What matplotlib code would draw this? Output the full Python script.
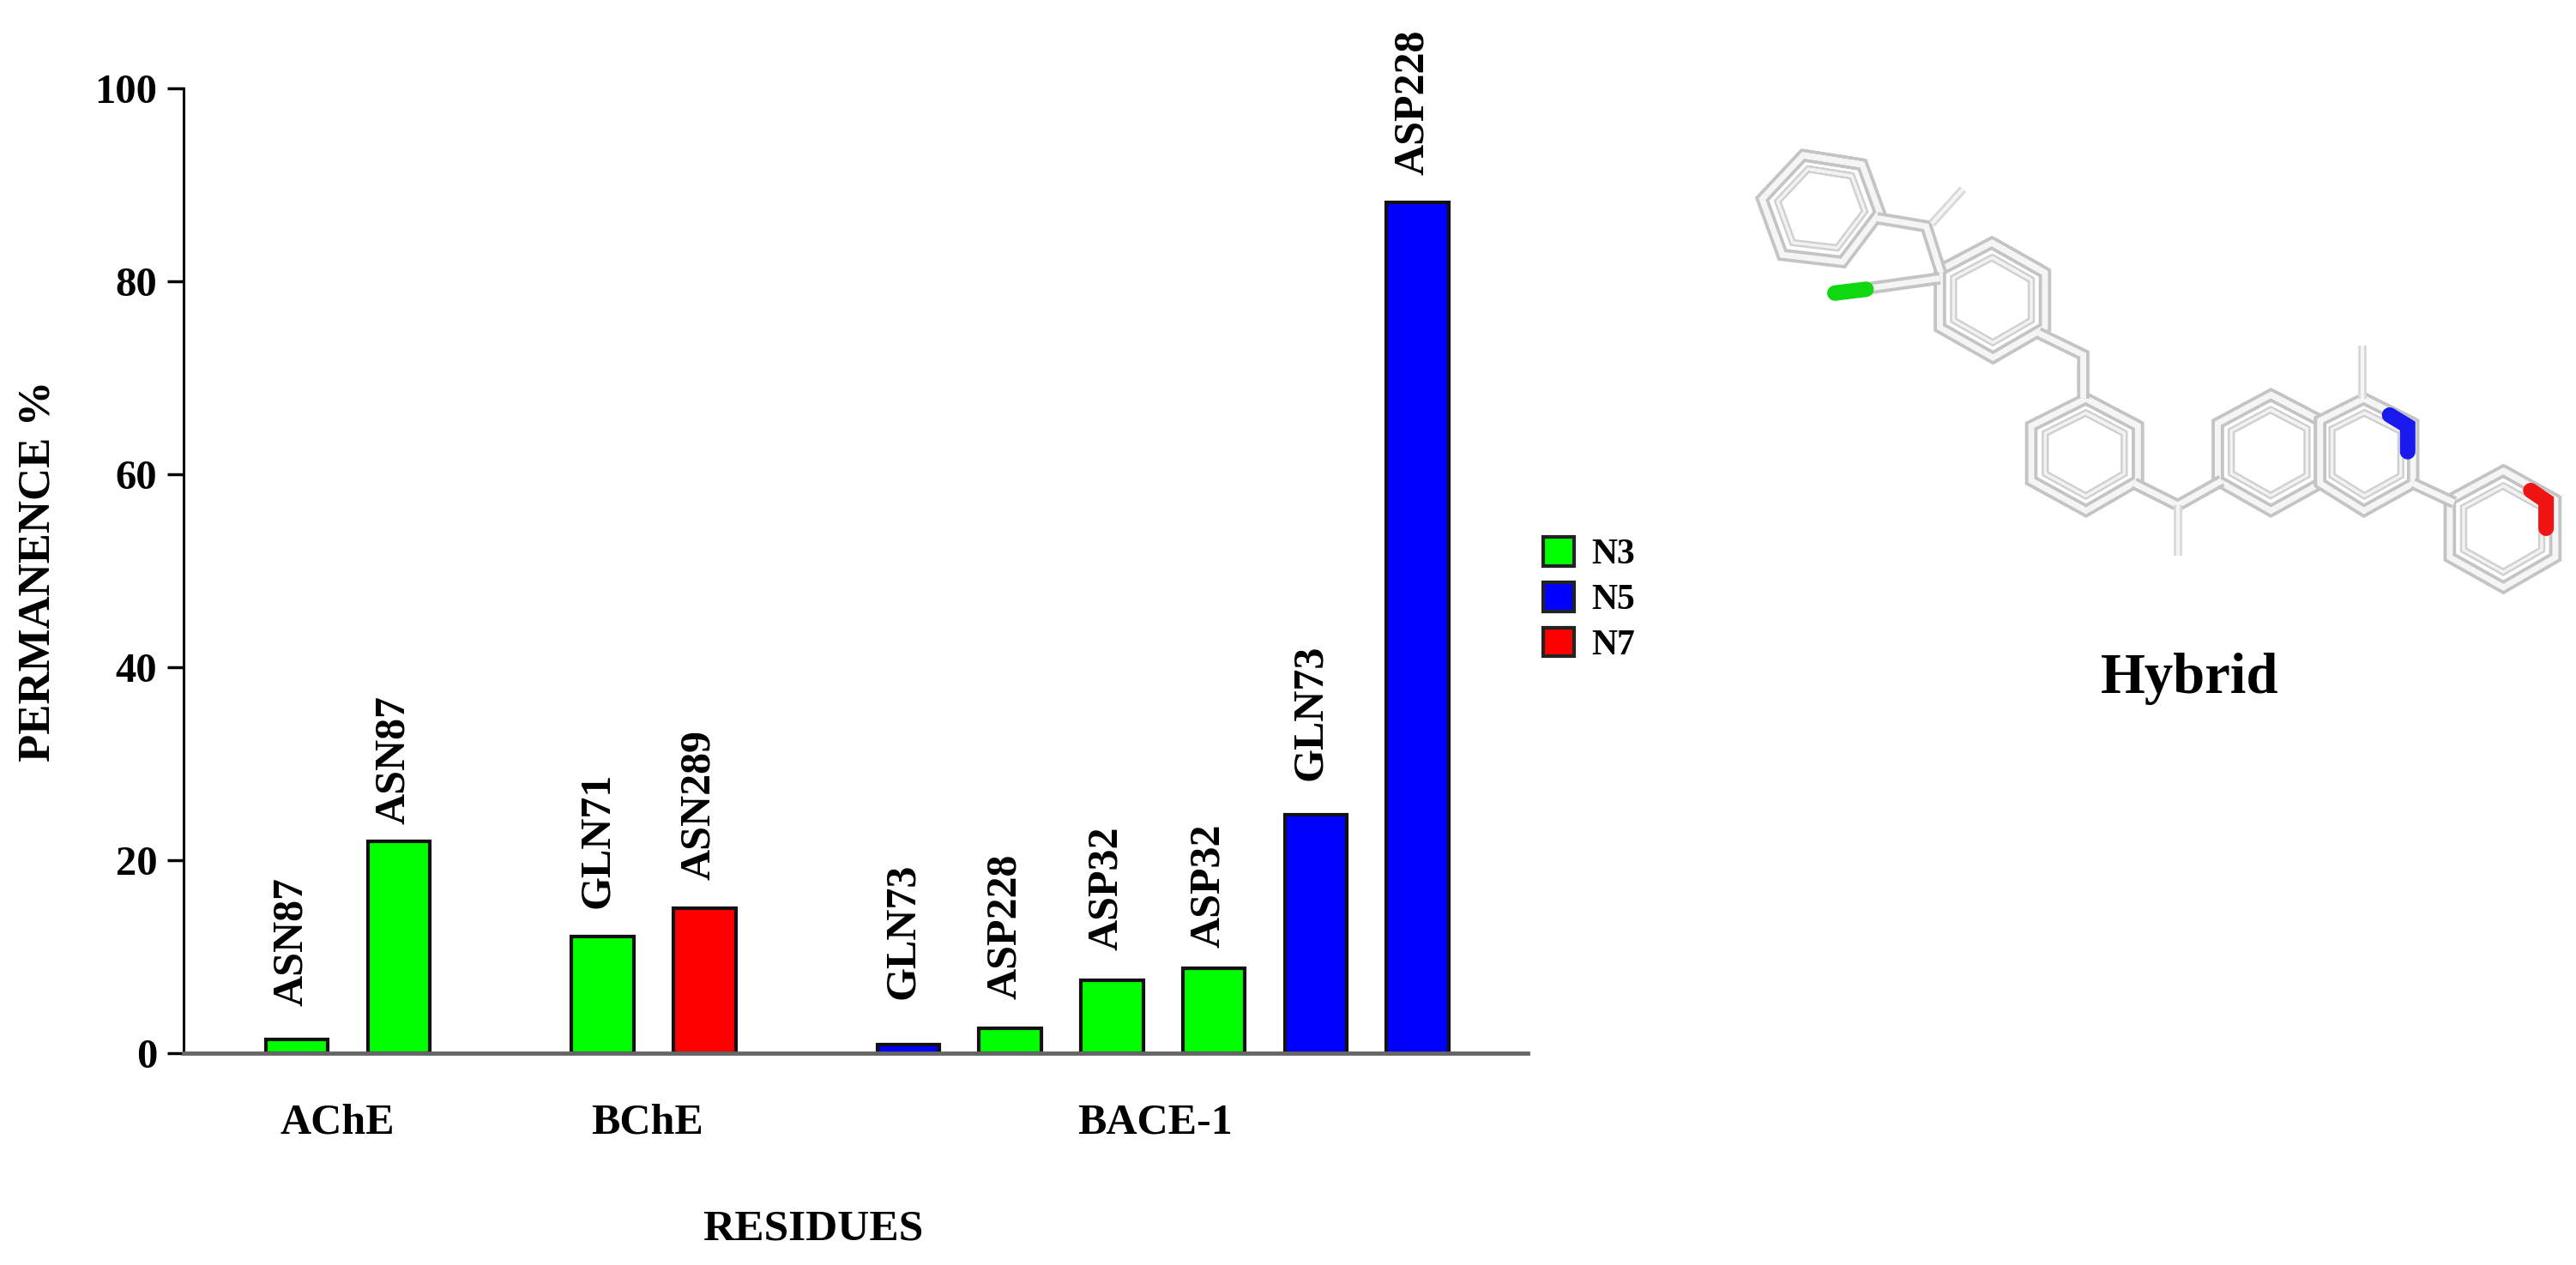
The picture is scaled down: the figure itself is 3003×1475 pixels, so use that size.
import matplotlib
matplotlib.use('Agg')
import matplotlib.pyplot as plt
from matplotlib.patches import Patch
import numpy as np

plt.rcParams['font.family'] = 'Liberation Serif'
plt.rcParams['font.weight'] = 'bold'

# bars, left to right
slots = [0, 1, 3, 4, 6, 7, 8, 9, 10, 11]
values = [1.4, 22.0, 12.1, 15.0, 0.9, 2.6, 7.6, 8.8, 24.7, 88.2]
residues = ['ASN87', 'ASN87', 'GLN71', 'ASN289', 'GLN73', 'ASP228', 'ASP32', 'ASP32', 'GLN73', 'ASP228']
nitrogen = ['N3', 'N3', 'N3', 'N7', 'N5', 'N3', 'N3', 'N3', 'N5', 'N5']
label_y = [4.9, 23.7, 15.0, 18.0, 5.6, 5.6, 10.7, 10.9, 28.3, 91.0]
colors = {'N3': '#00ff00', 'N5': '#0000ff', 'N7': '#ff0000'}

groups = ['AChE', 'BChE', 'BACE-1']
group_x = [0.40, 3.44, 8.42]
y_ticks = [0, 20, 40, 60, 80, 100]

# molecule sketch, in crop pixels of the structure panel
rings = [
    [(160, 80), (268, 97), (300, 185), (232, 275), (122, 262), (85, 160)],
    [(505, 240), (602, 295), (602, 395), (507, 450), (410, 395), (410, 290)],
    [(677, 525), (772, 575), (772, 675), (677, 730), (577, 675), (577, 575)],
    [(1015, 518), (1105, 565), (1105, 680), (1015, 730), (918, 675), (918, 570)],
    [(1185, 525), (1275, 570), (1275, 680), (1185, 730), (1105, 680), (1105, 565)],
    [(1440, 657), (1535, 710), (1535, 815), (1440, 870), (1342, 815), (1342, 710)],
]
bonds = [
    [(295, 195), (385, 210), (412, 295)],
    [(410, 305), (245, 328)],
    [(590, 405), (672, 445), (672, 525)],
    [(765, 680), (845, 720), (925, 675)],
    [(1275, 680), (1350, 715)],
]
thin_bonds = [
    [(395, 205), (452, 142)],
    [(845, 720), (845, 812)],
    [(1183, 525), (1183, 428)],
]
atoms = [
    ([(218, 332), (275, 325)], '#10d810'),
    ([(1232, 555), (1265, 575), (1265, 622)], '#1a1aee'),
    ([(1490, 693), (1518, 712), (1518, 762)], '#f01414'),
]

fig = plt.figure(figsize=(30.03, 14.75), dpi=100, facecolor='white')
W, H = 3003.0, 1475.0
ax = fig.add_axes([214 / W, 1 - 1228 / H, (1781 - 214) / W, (1228 - 103) / H])

bar_colors = [colors[n] for n in nitrogen]
ax.bar(slots, values, width=0.61, color=bar_colors, edgecolor='#111111', linewidth=3)

for s, name, y in zip(slots, residues, label_y):
    ax.text(s - 0.05, y, name, rotation=90, ha='center', va='bottom', fontsize=36)

ax.set_xlim(-1.113, 12.08)
ax.set_ylim(0, 100)
ax.set_yticks(y_ticks)
ax.tick_params(axis='y', labelsize=35, length=14, width=2.5, pad=8)
ax.set_xticks(group_x)
ax.set_xticklabels(groups)
ax.tick_params(axis='x', labelsize=36, length=0, pad=42)
ax.set_xlabel('RESIDUES', fontsize=37, fontweight='bold', x=0.468, labelpad=56)
ax.set_ylabel('PERMANENCE %', fontsize=38, fontweight='bold', labelpad=30)

ax.spines['top'].set_visible(False)
ax.spines['right'].set_visible(False)
ax.spines['left'].set_linewidth(2.2)
ax.spines['bottom'].set_linewidth(3.5)
ax.spines['bottom'].set_color('#666666')

handles = [Patch(facecolor=colors[k], edgecolor='#222222', linewidth=3, label=k) for k in colors]
fig.legend(handles=handles, loc='center left', bbox_to_anchor=(1761 / W, 1 - 699 / H), frameon=False,
           fontsize=30, handlelength=0.87, handleheight=0.87, handletextpad=0.5, labelspacing=0.30)

# structure panel
mol = fig.add_axes([2000 / W, 1 - 1130 / H, 1000 / W, 1000 / H])
mol.set_xlim(0, 1568)
mol.set_ylim(1568, 0)
mol.axis('off')


def tube(pts, outer, inner, closed=False, edge='#c4c4c4', core='#f5f5f5'):
    pts = np.array(pts, dtype=float)
    if closed:
        pts = np.vstack([pts, pts[0], pts[1]])
    mol.plot(pts[:, 0], pts[:, 1], color=edge, lw=outer, solid_joinstyle='miter', solid_capstyle='butt')
    mol.plot(pts[:, 0], pts[:, 1], color=core, lw=inner, solid_joinstyle='miter', solid_capstyle='butt')


for r in rings:
    tube(r, 10.5, 5, closed=True)
    r = np.array(r, dtype=float)
    c = r.mean(axis=0)
    tube(c + (r - c) * 0.74, 6, 2.5, closed=True, edge='#d0d0d0', core='#f2f2f2')
for b in bonds:
    tube(b, 10.5, 5)
for b in thin_bonds:
    tube(b, 7, 3, edge='#d8d8d8')
for pts, col in atoms:
    pts = np.array(pts)
    mol.plot(pts[:, 0], pts[:, 1], color=col, lw=13, solid_joinstyle='miter', solid_capstyle='round')

mol.text(867, 1038, 'Hybrid', ha='center', va='center', fontsize=48)

plt.savefig('out.png', dpi=100)
